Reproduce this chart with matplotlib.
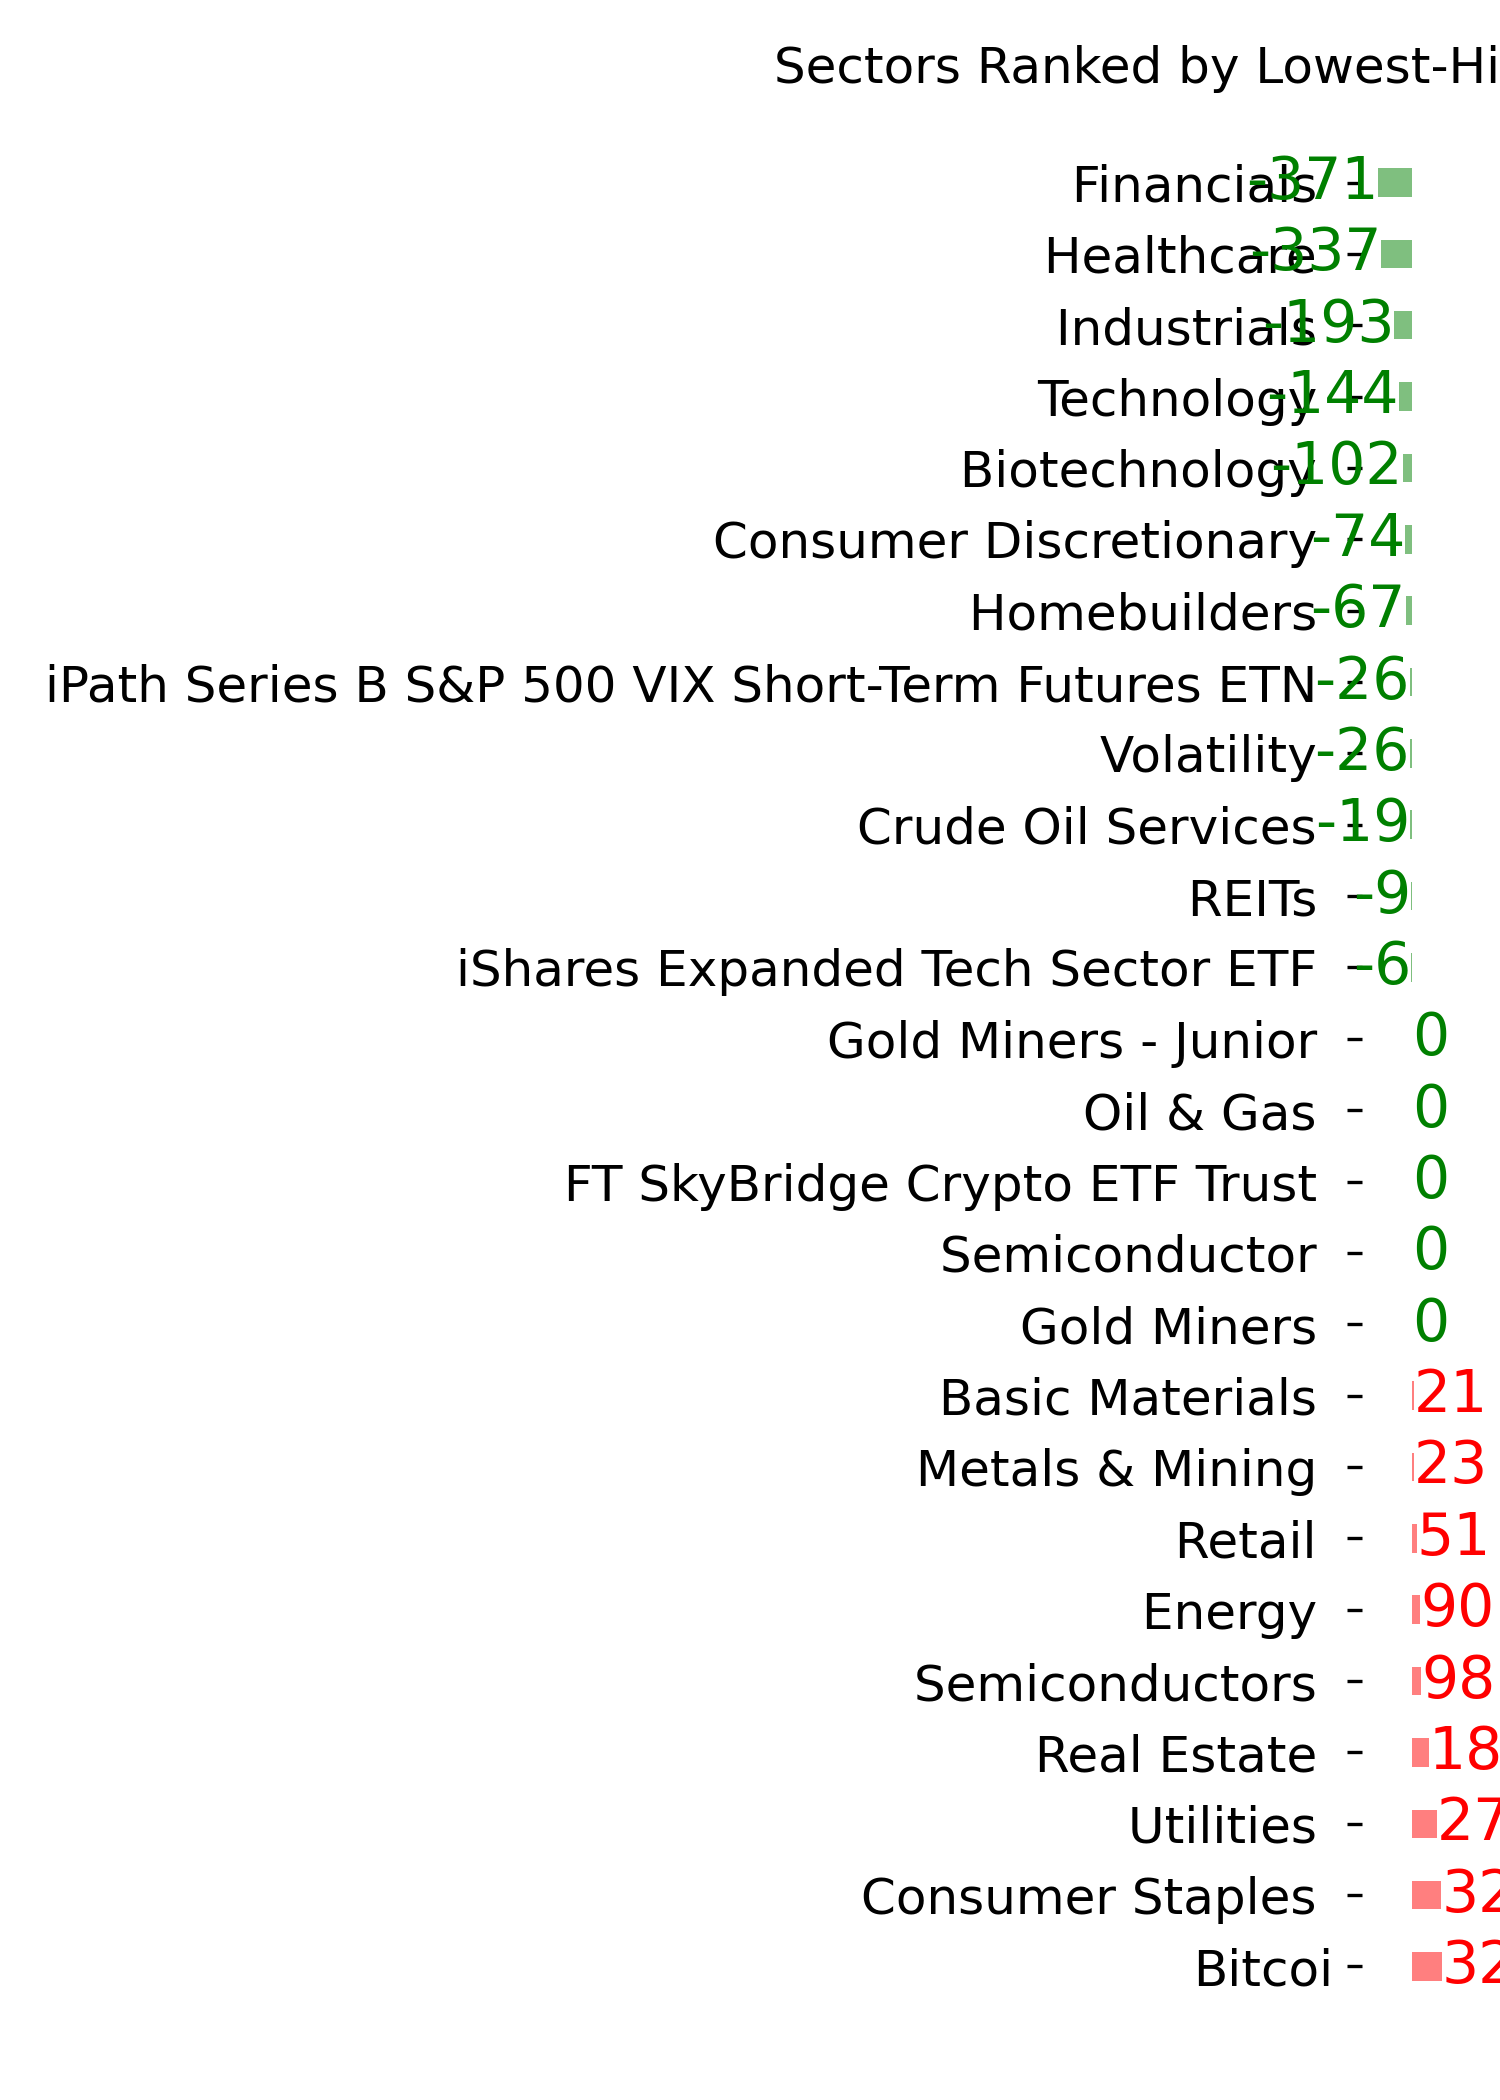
import matplotlib
matplotlib.use("Agg")
import matplotlib.pyplot as plt

sectors = ["Financials ", "Healthcare ", "Industrials ", "Technology ", "Biotechnology ",
           "Consumer Discretionary ", "Homebuilders ",
           "iPath Series B S&P 500 VIX Short-Term Futures ETN ", "Volatility ",
           "Crude Oil Services ", "REITs ", "iShares Expanded Tech Sector ETF ",
           "Gold Miners - Junior ", "Oil & Gas ", "FT SkyBridge Crypto ETF Trust ",
           "Semiconductor ", "Gold Miners ", "Basic Materials ", "Metals & Mining ",
           "Retail ", "Energy ", "Semiconductors ", "Real Estate ", "Utilities ",
           "Consumer Staples ", "Bitcoi"]
values = [-371, -337, -193, -144, -102, -74, -67, -26, -26, -19, -9, -6,
          0, 0, 0, 0, 0, 21, 23, 51, 90, 98, 182, 272, 320, 325]

title = "Sectors Ranked by Lowest-High Percent Change"

W, H = 1500, 2100
fig = plt.figure(figsize=(5, 7), dpi=300)

# layout in pixels; the axes runs past the right edge
ax_left_px = 1362
ax_w_px = 1200
zero_px = 1412
px_per_unit = 0.091
ax_top_px = 108
row_px = 71.36
pad_rows = (182.5 - ax_top_px) / row_px
n = len(sectors)
ax_h_px = (n - 1 + 2 * pad_rows) * row_px

ax = fig.add_axes([ax_left_px / W, 1 - (ax_top_px + ax_h_px) / H, ax_w_px / W, ax_h_px / H])
# title starts at x=774 px in the reference
ax.set_title(title, fontsize=12, loc="left", x=(774 - ax_left_px) / ax_w_px)

pos = list(range(n))
colors = ["green" if v <= 0 else "red" for v in values]
ax.barh(pos, values, height=0.4, color=colors, alpha=0.5)
for p, v, c in zip(pos, values, colors):
    ax.text(v, p, str(v), color=c, fontsize=14, va="center",
            ha="right" if v < 0 else "left")

ax.set_yticks(pos)
ax.set_yticklabels(sectors, fontsize=12)
ax.set_ylim(n - 1 + pad_rows, -pad_rows)
xmin = -(zero_px - ax_left_px) / px_per_unit
ax.set_xlim(xmin, xmin + ax_w_px / px_per_unit)
ax.set_xticks([])
for s in ax.spines.values():
    s.set_visible(False)

fig.savefig("out.png", dpi=300)
